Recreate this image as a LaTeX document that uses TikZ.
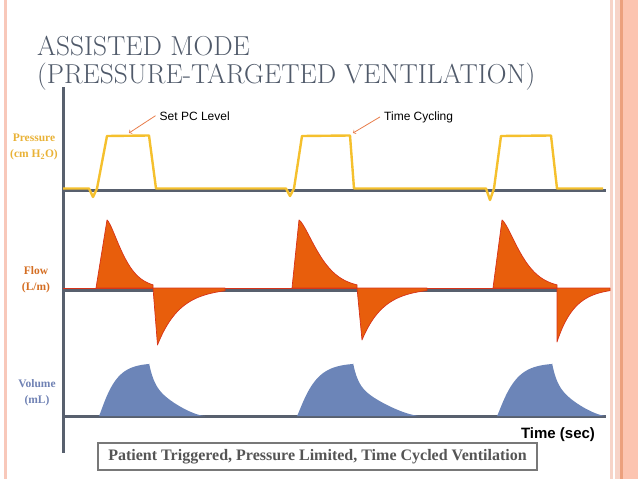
\documentclass[tikz,border=0pt]{standalone}
\usepackage{fontspec}
\newfontfamily\arialfont{Liberation Sans}
\newfontfamily\timesfont{Liberation Serif}
\usepackage{tikz}
\definecolor{leftpink}{RGB}{248,200,186}
\definecolor{palepink}{RGB}{247,212,200}
\definecolor{salmonline}{RGB}{236,160,125}
\definecolor{salmonfill}{RGB}{252,196,176}
\definecolor{titlegrey}{RGB}{80,90,106}
\definecolor{axisgrey}{RGB}{88,96,110}
\definecolor{pressyellow}{RGB}{245,192,45}
\definecolor{floworange}{RGB}{232,94,12}
\definecolor{flowred}{RGB}{215,50,25}
\definecolor{volblue}{RGB}{108,133,184}
\definecolor{presslbl}{RGB}{233,178,55}
\definecolor{flowlbl}{RGB}{212,110,35}
\definecolor{vollbl}{RGB}{112,130,180}
\definecolor{callorange}{RGB}{232,125,75}
\definecolor{boxgrey}{RGB}{120,120,120}
\definecolor{boxtext}{RGB}{85,85,85}

\begin{document}
\begin{tikzpicture}[x=1pt,y=-1pt,
	axis/.style={draw=axisgrey,line width=3pt},
	press/.style={draw=pressyellow,line width=2.4pt,line join=round},
	flowfill/.style={fill=floworange,draw=flowred,line width=0.7pt,line join=round},
	volfill/.style={fill=volblue},
	lbl/.style={font=\timesfont\bfseries\fontsize{11.5}{16}\selectfont,align=center},
	note/.style={font=\arialfont\fontsize{12}{14}\selectfont,anchor=base west,inner sep=4pt},
	callout/.style={->,draw=callorange,line width=0.8pt}]
			\useasboundingbox (0,0) rectangle (638,479);
			
			% slide borders
			\fill[leftpink] (3.5,0) rectangle (7,479);
			\fill[palepink] (610,0) rectangle (612.5,479);
			\fill[palepink] (614.5,0) rectangle (620,479);
			\fill[salmonline] (620,0) rectangle (623,479);
			\fill[salmonfill] (623,0) rectangle (638,479);
			
			% title
			\node[anchor=base west,inner sep=0,text=titlegrey,font=\fontsize{27.4}{32}\selectfont] (title1) at (37,55) {ASSISTED MODE};
			\node[anchor=base west,inner sep=0,text=titlegrey,font=\fontsize{27.4}{32}\selectfont] (title2) at (37,83) {(PRESSURE-TARGETED VENTILATION)};
			
			% axes and baselines
			\draw[axis] (63.5,87) -- (63.5,453);
			\draw[axis] (63,190.5) -- (606,190.5);
			\draw[axis] (63,290) -- (606,290);
			\draw[axis] (63,416.5) -- (606,416.5);
			\draw[flowred,line width=0.7pt] (63,288) -- (606,288);
			
			% volume
			\foreach \st/\pk/\en in {99/149/205, 297/353/420, 497/552/606}
			{
				\pgfmathsetmacro\rise{\pk-\st}
				\pgfmathsetmacro\tr{0.3*\rise}
				\pgfmathsetmacro\lf{\en-\pk}
				\pgfmathsetmacro\fall{\lf-0.5}
				\fill[volfill] (\st,416) -- plot[domain=0.2:\rise,samples=40] ({\st+\x},{416-53*(1-exp(-(\x/\tr)^1.15))}) -- (\pk,363)
					-- plot[domain=0:\fall,samples=40] ({\pk+\x},{416-53*(0.4*exp(-\x/5)+0.6*(1-\x/\lf)*sqrt(1-\x/\lf))}) -- (\en,416) -- cycle;
			}
			
			% flow
			\foreach \rs/\pk/\ng/\bx/\by/\en in {96/107/153/157.5/345/225, 292/299/357/362/340/427, 493/502/557/557/342/610}
			{
				\pgfmathsetmacro\dec{\ng-\pk}
				\pgfmathsetmacro\tp{0.45*\dec}
				\pgfmathsetmacro\tl{\en-\bx}
				\pgfmathsetmacro\tn{\tl/3}
				\filldraw[flowfill] (\rs,288) -- (\pk,220) -- plot[domain=0.5:\dec,samples=40] ({\pk+\x},{288-68*exp(-(\x/\tp)^1.4)}) -- (\ng,288) -- cycle;
				\filldraw[flowfill] (\ng,288) -- (\bx,\by) -- plot[domain=0:\tl,samples=40] ({\bx+\x},{288+(\by-288)*exp(-\x/\tn)}) -- (\en,288) -- cycle;
			}
			
			% pressure
			\draw[press] (63,188.5) foreach \dp/\dy/\ta/\tb/\fe in {93/197/107/149/156, 290/196/302/350/354, 490/200/501/551/557}
				{ -- (\dp-4,188.5) -- (\dp,\dy) -- (\dp+4,188.5) -- (\ta,136) -- (\tb,135.5) -- (\fe,188.5) } -- (603,188.5);
			
			% callouts
			\node[note] (setpc) at (155.5,120) {Set PC Level};
			\coordinate (pctop) at (129,133);
			\draw[callout] (setpc.west) -- (pctop);
			\node[note] (timecyc) at (380,120) {Time Cycling};
			\coordinate (cycpt) at (353,133);
			\draw[callout] (timecyc.west) -- (cycpt);
			
			% axis labels
			\node[lbl,text=presslbl] (plbl) at (34,147) {Pressure\\(cm H\textsubscript{2}O)};
			\node[lbl,text=flowlbl] (flbl) at (36,280) {Flow\\(L/m)};
			\node[lbl,text=vollbl] (vlbl) at (37,393) {Volume\\(mL)};
			\node[font=\arialfont\bfseries\fontsize{15}{18}\selectfont] (tlbl) at (558,434.5) {Time (sec)};
			
			% summary box
			\node[draw=boxgrey,line width=2.5pt,fill=white,minimum width=439pt,minimum height=27pt,inner sep=0,text=boxtext,font=\timesfont\bfseries\fontsize{16}{18}\selectfont] (summary) at (317.5,456.5) {Patient Triggered, Pressure Limited, Time Cycled Ventilation};
\end{tikzpicture}
\end{document}
